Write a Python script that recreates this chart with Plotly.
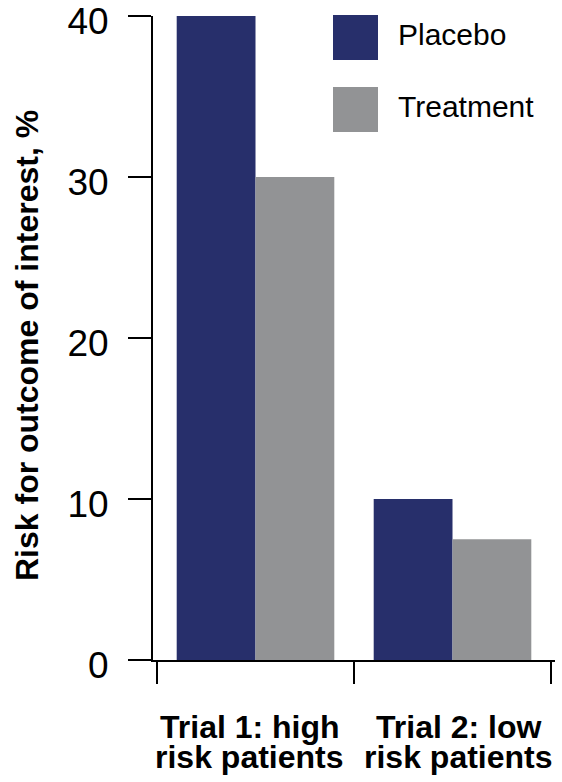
import plotly.graph_objects as go

categories = ["Trial 1: high\nrisk patients", "Trial 2: low\nrisk patients"]
series_names = ["Placebo", "Treatment"]
placebo = [40, 10]
treatment = [30, 7.5]
y_ticks = [0, 10, 20, 30, 40]
y_title = "Risk for outcome of interest, %"

colors = {"Placebo": "#272F6B", "Treatment": "#929395"}
FONT = "Arial, Liberation Sans, sans-serif"

W, H = 562, 782
L, R, T, B = 153, 7, 16, 122
pw, ph = W - L - R, H - T - B

def px_x(p):
    return (p - L) / pw

def px_y(p):
    return (H - B - p) / ph

cat_keys = [c.replace("\n", " ") for c in categories]

fig = go.Figure()
for name, vals in zip(series_names, [placebo, treatment]):
    fig.add_trace(go.Bar(x=cat_keys, y=vals, name=name,
                         marker=dict(color=colors[name], line=dict(width=0)),
                         showlegend=False))

fig.update_layout(
    width=W, height=H,
    margin=dict(l=L, r=R, t=T, b=B, pad=0, autoexpand=False),
    paper_bgcolor="white", plot_bgcolor="white",
    barmode="group", bargap=0.2, bargroupgap=0,
    font=dict(family=FONT, color="black"),
)
fig.update_yaxes(range=[0, 40], tickvals=y_ticks, ticks="outside", ticklen=23,
                 tickwidth=2, tickcolor="black", showline=True, linewidth=2,
                 linecolor="black", showgrid=False, zeroline=False, automargin=False,
                 tickfont=dict(size=37, family=FONT), ticklabelstandoff=12,
                 ticklabelshift=5, ticklabeloverflow="allow")
fig.update_xaxes(ticks="outside", tickson="boundaries", ticklen=22, tickwidth=2,
                 tickcolor="black", showline=True, linewidth=2, linecolor="black",
                 showgrid=False, zeroline=False, showticklabels=False, automargin=False)

# y-axis title
fig.add_annotation(x=px_x(27), xref="paper", y=px_y(346), yref="paper",
                   text="<b>" + y_title + "</b>", textangle=-90, showarrow=False,
                   xanchor="center", yanchor="middle",
                   font=dict(size=32, family=FONT, color="black"))

# category labels, two lines each
shifts = [-6, 6]
for key, lab, sh in zip(cat_keys, categories, shifts):
    lines = lab.split("\n")
    for i, ln in enumerate(lines):
        fig.add_annotation(x=key, xref="x", y=px_y(727 + 30 * i), yref="paper",
                           text="<b>" + ln + "</b>", showarrow=False, xshift=sh,
                           yanchor="middle", xanchor="center",
                           font=dict(size=32, family=FONT, color="black"))

# custom legend
leg_tops = [15, 87]
for name, top in zip(series_names, leg_tops):
    fig.add_shape(type="rect", xref="paper", yref="paper",
                  x0=px_x(333), x1=px_x(378), y0=px_y(top + 45), y1=px_y(top),
                  fillcolor=colors[name], line=dict(width=0))
    fig.add_annotation(x=px_x(396), xref="paper", y=px_y(top + 20), yref="paper",
                       text=name, showarrow=False, xanchor="left", yanchor="middle",
                       font=dict(size=30, family=FONT, color="black"))

fig.write_html("out.html", config={"displayModeBar": False},
               post_script="document.body.style.margin='0';document.body.style.overflow='hidden';")
